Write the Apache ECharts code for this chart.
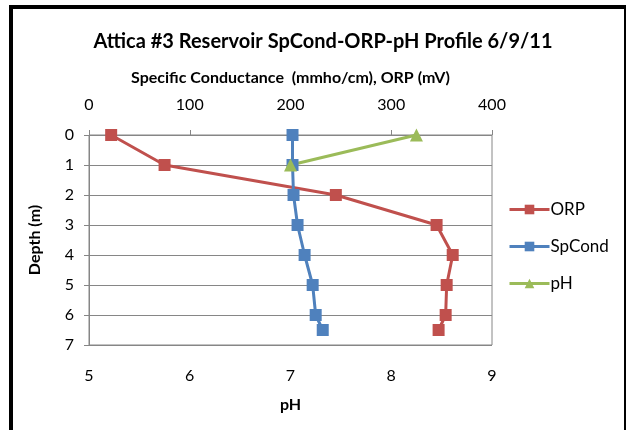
<!DOCTYPE html>
<html>
<head>
<meta charset="utf-8">
<script src="https://cdn.jsdelivr.net/npm/echarts@6/dist/echarts.min.js"></script>
<style>
    html, body { margin: 0; padding: 0; background: #fff; overflow: hidden; }
    #frame { position: absolute; left: 9px; top: 5px; width: 611px; height: 440px;
             border-left: 4px solid #000; border-top: 4px solid #000; border-right: 2px solid #000; }
    #chart { position: absolute; left: 0; top: 0; width: 627px; height: 430px; }
</style>
</head>
<body>
<div id="frame"></div>
<div id="chart"></div>
<script>
// 深度 (m)
const depths = [0, 1, 2, 3, 4, 5, 6, 6.5];
// ORP (mV)
const orpValues = [22, 75, 245, 345, 361, 355, 354, 347];
// 比电导 SpCond
const spCondValues = [202, 202, 203, 207, 214, 222, 225, 232];
// pH 只有两个点
const phDepths = [0, 1];
const phValues = [8.25, 7.0];

const topTicks = [0, 400, 100];   // min, max, interval
const bottomTicks = [5, 9, 1];
const depthTicks = [0, 7, 1];

const font = 'Lato, "Liberation Sans", sans-serif';

const pairs = (xs, ys) => xs.map((x, i) => [x, ys[i]]);

const chart = echarts.init(document.getElementById('chart'));

const option = {
    backgroundColor: 'transparent',
    animation: false,
    textStyle: { fontFamily: font },
    title: {
        text: 'Attica #3 Reservoir SpCond-ORP-pH Profile 6/9/11',
        left: 318,
        textAlign: 'center',
        top: 27,
        textStyle: { fontFamily: font, fontSize: 20, fontWeight: 'bold', color: '#000' }
    },
    grid: {
        left: 89,
        right: 135,
        top: 135,
        bottom: 85,
        show: true,
        borderColor: '#868686',
        borderWidth: 1
    },
    legend: {
        orient: 'vertical',
        left: 503,
        top: 196,
        itemWidth: 40,
        itemHeight: 12,
        itemGap: 20,
        data: ['ORP', 'SpCond', 'pH'],
        lineStyle: { width: 3 },
        textStyle: { fontFamily: font, fontSize: 17, color: '#000', padding: [0, 0, 0, -4] }
    },
    xAxis: [
        {
            type: 'value',
            position: 'top',
            min: topTicks[0],
            max: topTicks[1],
            interval: topTicks[2],
            name: 'Specific Conductance  (mmho/cm), ORP (mV)',
            nameLocation: 'middle',
            nameGap: 49,
            nameTextStyle: { fontFamily: font, fontSize: 16, fontWeight: 'bold', color: '#000' },
            axisLine: { show: false },
            axisTick: { show: true, length: 5, lineStyle: { color: '#868686' } },
            axisLabel: { margin: 22, fontSize: 16, color: '#000', fontFamily: font },
            splitLine: { show: false }
        },
        {
            type: 'value',
            position: 'bottom',
            min: bottomTicks[0],
            max: bottomTicks[1],
            interval: bottomTicks[2],
            name: 'pH',
            nameLocation: 'middle',
            nameGap: 52,
            nameTextStyle: { fontFamily: font, fontSize: 16, fontWeight: 'bold', color: '#000' },
            axisLine: { show: false },
            axisTick: { show: false },
            axisLabel: { margin: 23, fontSize: 16, color: '#000', fontFamily: font },
            splitLine: { show: false }
        }
    ],
    yAxis: {
        type: 'value',
        inverse: true,
        min: depthTicks[0],
        max: depthTicks[1],
        interval: depthTicks[2],
        name: 'Depth (m)',
        nameLocation: 'middle',
        nameGap: 46,
        nameRotate: 90,
        nameTextStyle: { fontFamily: font, fontSize: 16, fontWeight: 'bold', color: '#000' },
        axisLine: { show: true, lineStyle: { color: '#868686' } },
        axisTick: { show: true, length: 5, lineStyle: { color: '#868686' } },
        axisLabel: { margin: 15, fontSize: 16, color: '#000', fontFamily: font },
        splitLine: { show: true, lineStyle: { color: '#868686', width: 1 } }
    },
    series: [
        {
            name: 'ORP',
            type: 'line',
            xAxisIndex: 0,
            data: pairs(orpValues, depths),
            symbol: 'rect',
            symbolSize: 12,
            lineStyle: { color: '#C0504D', width: 3 },
            itemStyle: { color: '#C0504D' }
        },
        {
            name: 'SpCond',
            type: 'line',
            xAxisIndex: 0,
            data: pairs(spCondValues, depths),
            symbol: 'rect',
            symbolSize: 12,
            lineStyle: { color: '#4F81BD', width: 3 },
            itemStyle: { color: '#4F81BD' }
        },
        {
            name: 'pH',
            type: 'line',
            xAxisIndex: 1,
            data: pairs(phValues, phDepths),
            symbol: 'triangle',
            symbolSize: 13,
            lineStyle: { color: '#9BBB59', width: 3 },
            itemStyle: { color: '#9BBB59' }
        }
    ]
};

chart.setOption(option);
</script>
</body>
</html>
